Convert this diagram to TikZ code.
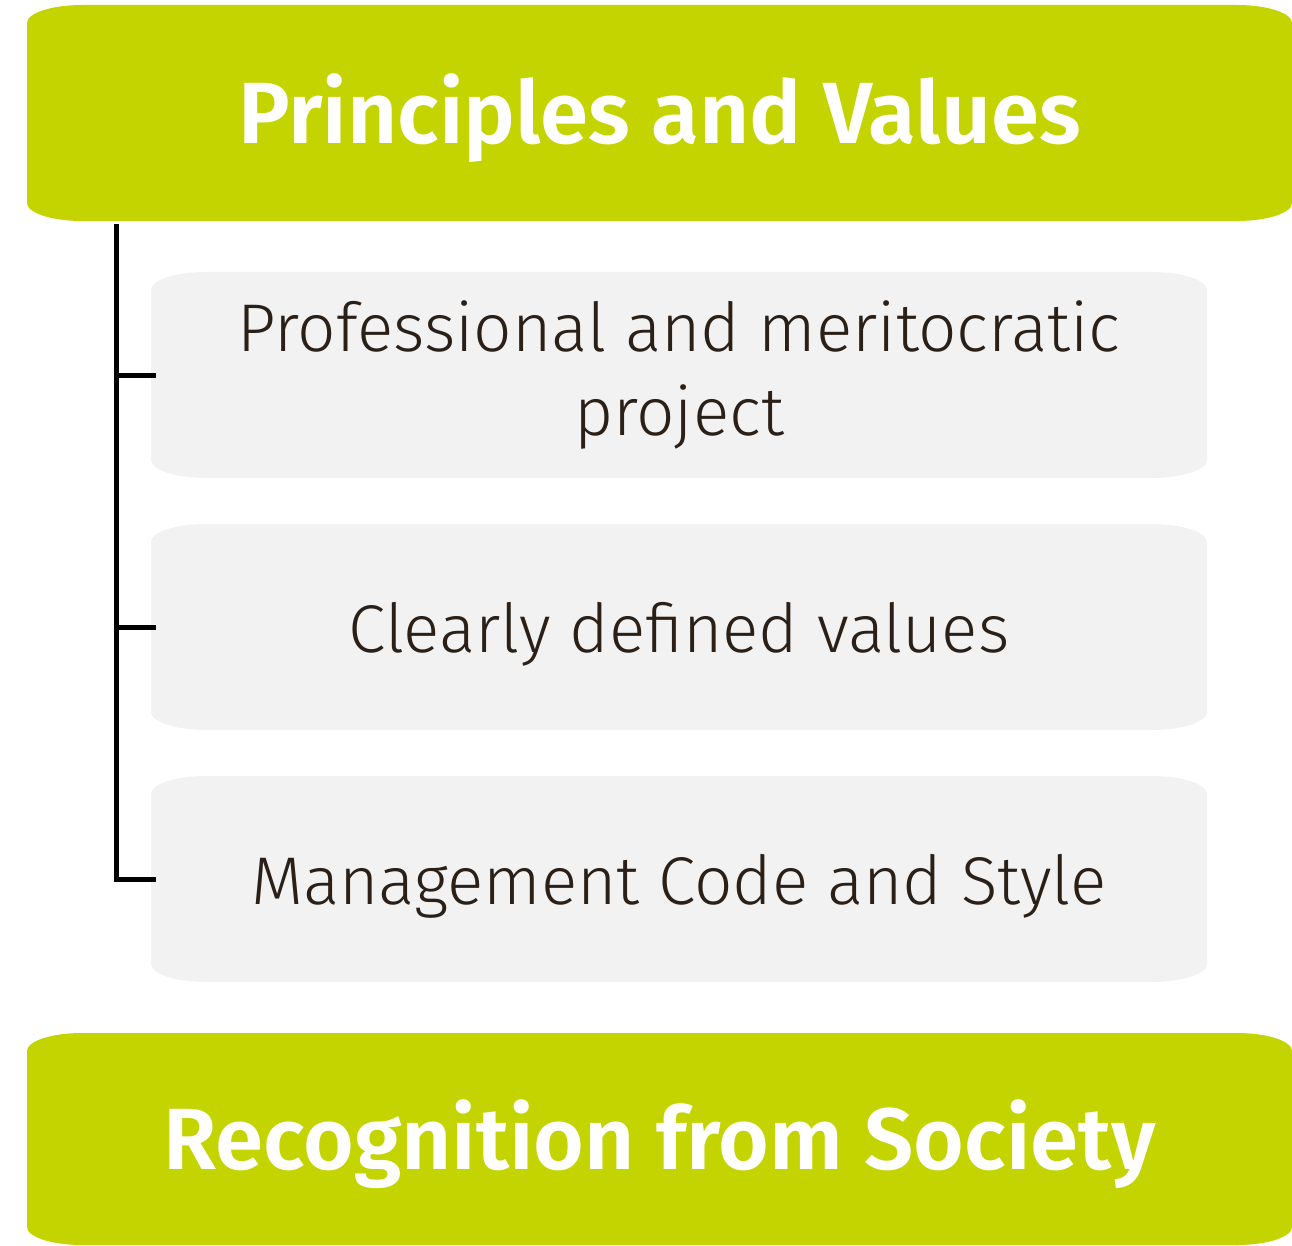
\documentclass[tikz,border=0pt]{standalone}
\usepackage{fontspec}
\setmainfont{Fira Sans}
\newfontfamily\boldf{Fira Sans SemiBold}
\newfontfamily\lightf{Fira Sans Light}
\usetikzlibrary{calc}
\definecolor{lime}{HTML}{C4D400}
\definecolor{panel}{HTML}{F2F2F2}
\definecolor{ink}{HTML}{2A2018}
\tikzset{
  ebox/.style={rectangle, inner sep=0pt, align=center,
    path picture={
      \fill[#1] let \p1=(path picture bounding box.south west),
                    \p2=(path picture bounding box.north east) in
        (\x1+55pt,\y1) -- (\x2-55pt,\y1)
        arc[start angle=-90,end angle=0,x radius=55pt,y radius=18pt]
        -- (\x2,\y2-18pt)
        arc[start angle=0,end angle=90,x radius=55pt,y radius=18pt]
        -- (\x1+55pt,\y2)
        arc[start angle=90,end angle=180,x radius=55pt,y radius=18pt]
        -- (\x1,\y1+18pt)
        arc[start angle=180,end angle=270,x radius=55pt,y radius=18pt]
        -- cycle;}},
  headbox/.style={ebox=lime, minimum width=1265pt, text=white,
    text height=81pt, text depth=20pt,
    font=\boldf\fontsize{87}{96}\selectfont},
  itembox/.style={ebox=panel, minimum width=1056pt, minimum height=206pt,
    text=ink, font=\lightf\fontsize{67.5}{84}\selectfont},
  oneline/.style={text height=67pt, text depth=17pt},
  conn/.style={line width=5pt, black}
}
\begin{document}
\begin{tikzpicture}[x=1pt,y=-1pt]
\useasboundingbox (0,0) rectangle (1292,1246);
\node[headbox, minimum height=216pt] (top) at (659.5,113) {Principles and Values};
\node[itembox] (g1) at (679,375) {Professional and meritocratic\\project};
\node[itembox, oneline] (g2) at (679,627) {Clearly defined values};
\node[itembox, oneline] (g3) at (679,879) {Management Code and Style};
\node[headbox, minimum height=212pt] (bot) at (659.5,1139) {Recognition from Society};
\coordinate (spine) at (116,224);
\draw[conn] (spine) |- ([xshift=5pt]g3.west);
\draw[conn] (g1.west -| spine) -- ([xshift=5pt]g1.west);
\draw[conn] (g2.west -| spine) -- ([xshift=5pt]g2.west);
\end{tikzpicture}
\end{document}
